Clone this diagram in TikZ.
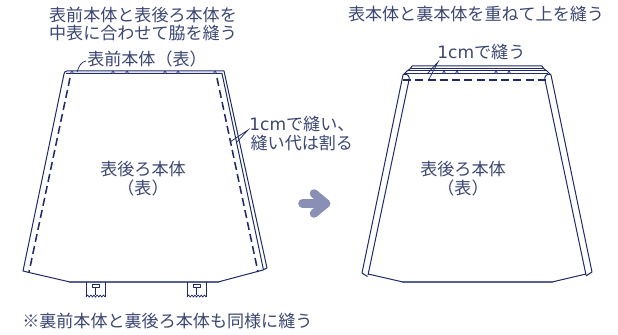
\documentclass[tikz,border=0pt]{standalone}
\usepackage{fontspec}
\setmainfont{Noto Sans CJK JP}
\newfontfamily\latinfnt{DejaVu Sans}
\definecolor{inkline}{HTML}{1F2A66}
\definecolor{inktext}{HTML}{3B4672}
\definecolor{hemline}{HTML}{56628F}
\definecolor{arrowfill}{HTML}{8A90B5}
\tikzset{
 x=0.75pt,y=-0.75pt,
 txt/.style={text=inktext,font=\fontsize{12.8pt}{14.2pt}\selectfont,inner sep=0pt,align=center},
 cut/.style={draw=inkline,line width=0.75pt,line join=round},
 thin cut/.style={draw=inkline,line width=0.55pt},
 hem/.style={draw=hemline,line width=1.2pt},
 seam/.style={draw=inkline,line width=1.15pt,dash pattern=on 6pt off 3.2pt},
 leader/.style={draw=inkline,line width=0.55pt},
 notch/.style={draw=inkline,line width=0.4pt,fill=white},
 bigarrow/.style={draw=arrowfill,line width=6.4pt,line cap=round,line join=round},
}
\begin{document}
\begin{tikzpicture}
\useasboundingbox (0,0) rectangle (618,335);
% ---- texts
\node[txt] (t1) at (143,24) {表前本体と表後ろ本体を\\中表に合わせて脇を縫う};
\node[txt] (t2) at (476,14) {表本体と裏本体を重ねて上を縫う};
\node[txt,anchor=west] (t3) at (87,59.5) {表前本体（表）};
\node[txt,anchor=west] (t4) at (249,133.5) {{\latinfnt 1cm}で縫い、\\縫い代は割る};
\node[txt] (t5) at (143,178.5) {表後ろ本体\\（表）};
\node[txt] (t6) at (463,178.5) {表後ろ本体\\（表）};
\node[txt,anchor=west] (t7) at (437,52) {{\latinfnt 1cm}で縫う};
\node[txt,anchor=west] (t8) at (22,321) {※裏前本体と裏後ろ本体も同様に縫う};
% ---- left garment
\coordinate (lTL) at (64,74);
\coordinate (lBL) at (23,271);
\draw[cut] (67,71) -- (224,71) -- (267,268) -- (263,270);
\draw[cut] (lTL) .. controls (64.5,72) and (65,71) .. (67,71);
\draw[cut] (lTL) -- (lBL) -- (29,272.5);
\draw[cut] (66,73.5) -- (222,73.5) -- (263.5,270);
\draw[seam] (70,78) -- (29,272);
\draw[seam] (217,78) -- (258,272);
\draw[cut] (29,272.5) -- (70,282);
\draw[cut] (218,282) -- (263,270);
\draw[hem] (69,282) -- (219,282);
\foreach \nx in {72,113,127,165,178,215}{
 \draw[notch] (\nx,72.3) circle (1.3);
}
% tabs
\foreach \tx in {86,187}{
 \begin{scope}[shift={(\tx,282)}]
 \draw[thin cut] (0,0) -- (0,15);
 \draw[thin cut] (19,0) -- (19,15);
 \draw[thin cut] (0,15) .. controls (1.5,12.5) and (2,12.5) .. (3.2,15)
   .. controls (4.5,12.5) and (5,12.5) .. (6.4,15)
   .. controls (7.7,12.5) and (8.2,12.5) .. (9.5,15)
   .. controls (10.8,12.5) and (11.3,12.5) .. (12.7,15)
   .. controls (14,12.5) and (14.5,12.5) .. (15.8,15)
   .. controls (17,12.5) and (17.5,12.5) .. (19,15);
 \draw[cut] (6,2) rectangle (13.5,5.5);
 \draw[cut] (9.7,5.5) -- (9.7,13);
 \end{scope}
}
% leaders, left
\coordinate (lf1) at (86,61);
\coordinate (lf2) at (77,72);
\draw[leader] (lf1) .. controls (81,62) and (79,66) .. (lf2);
\coordinate (lf3) at (248,130);
\coordinate (lf4) at (230,142);
\coordinate (lf5) at (237,142);
\draw[leader] (lf4) -- (lf3) -- (lf5);
% ---- right garment
\draw[cut] (412,66) -- (542,66) -- (544,69);
\draw[cut] (412,66) -- (410,69);
\draw[cut] (411,69) -- (543,69);
\draw[cut] (407,71) -- (410,69);
\draw[cut] (547,71) -- (544,69);
\draw[cut] (407,71) -- (547,71);
\draw[cut] (405,73.5) -- (548,73.5);
\draw[cut] (407,71) -- (403,75);
\draw[cut] (547,71) -- (551,75);
\draw[seam] (403,80) -- (546,80);
\draw[cut] (409,80) .. controls (410,76) and (407,73.5) .. (404,74.5);
\draw[cut] (545,80) .. controls (544,76) and (547,73.5) .. (550,74.5);
\draw[cut] (403,75) -- (362,273) -- (367.5,276.5);
\draw[cut] (409,80) -- (368,275);
\draw[cut] (551,75) -- (592,272) -- (586,276);
\draw[cut] (545,80) -- (586,275);
\draw[cut] (368,274) -- (403,282);
\draw[cut] (552,282) -- (586,274);
\draw[hem] (402,282) -- (553,282);
\foreach \nx in {444,457,496,509}{
 \draw[notch] (\nx,72.3) circle (1.3);
}
\coordinate (rf1) at (438,62);
\coordinate (rf2) at (427,74);
\coordinate (rf3) at (429,79);
\draw[leader] (rf2) -- (rf1) -- (rf3);
% ---- big arrow
\coordinate (aS) at (302.5,203.5);
\coordinate (aT) at (326,203.5);
\draw[bigarrow] (aS) -- (aT);
\draw[bigarrow] (314,193.5) -- (aT) -- (314,213.5);
\end{tikzpicture}
\end{document}
